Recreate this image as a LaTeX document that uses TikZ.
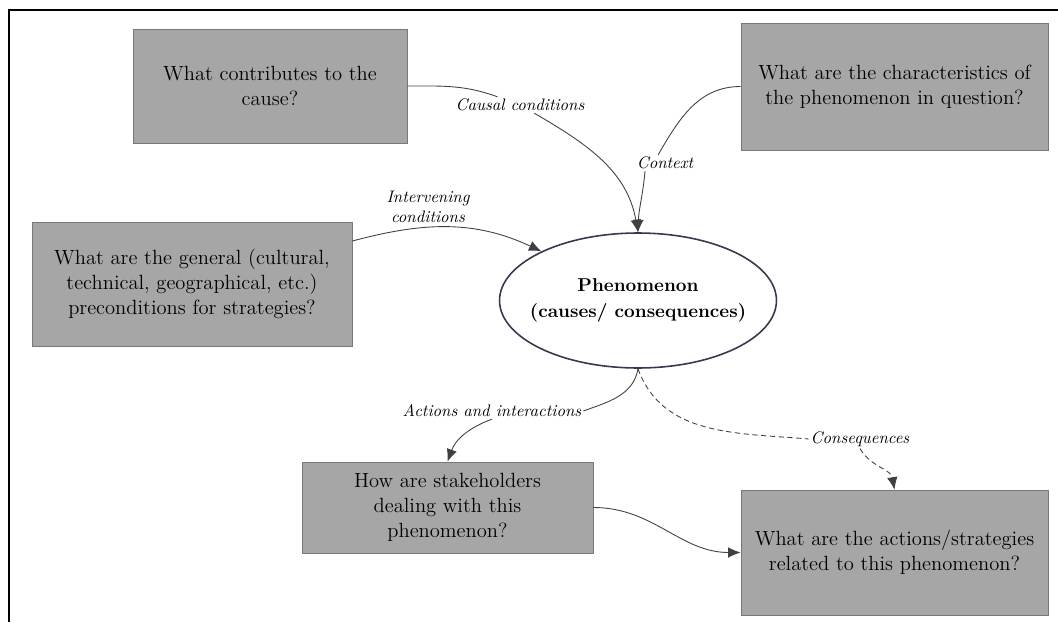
\documentclass[tikz,border=0pt]{standalone}
\usetikzlibrary{shapes.geometric,arrows.meta}
\definecolor{boxgray}{RGB}{166,166,166}
\definecolor{boxline}{RGB}{120,120,120}
\definecolor{ovalline}{RGB}{55,55,80}
\begin{document}
\begin{tikzpicture}
[x=0.02cm, y=-0.02cm, font=\fontsize{11.7}{14.4}\selectfont, >={Latex[length=2.5mm,width=2.1mm]}]
\tikzstyle{question}=[rectangle, draw=boxline, fill=boxgray, align=center, inner sep=0pt]
\tikzstyle{phenomenon}=[ellipse, draw=ovalline, line width=0.9pt, fill=white, inner sep=0pt]
\tikzstyle{edgelabel}=[fill=white, inner sep=1pt, align=center, font=\fontsize{9.5}{11.5}\selectfont\itshape]
\tikzstyle{link}=[draw=black!75, line width=0.5pt]
\useasboundingbox (0,0) rectangle (1058,622);
\draw[line width=1.1pt] (1058,10) -- (9,10) -- (9,622);

\node[question, minimum width=5.48cm, minimum height=2.28cm]	(cause)		at (270,86)		{What contributes to the\\cause?};
\node[question, minimum width=6.14cm, minimum height=2.54cm]	(charac)	at (894.5,86.5)	{What are the characteristics of\\the phenomenon in question?};
\node[question, minimum width=6.4cm, minimum height=2.48cm]	(precond)	at (192,284)	{What are the general (cultural,\\technical, geographical, etc.)\\preconditions for strategies?};
\node[phenomenon, minimum width=5.54cm, minimum height=2.7cm]	(phen)		at (638,300.5)
	[label={[align=center, font=\fontsize{10.6}{15}\selectfont\bfseries]center:{Phenomenon\\(causes/ consequences)}}] {};
\node[question, minimum width=5.82cm, minimum height=1.82cm]	(stake)		at (447.5,507.5)	{How are stakeholders\\dealing with this\\phenomenon?};
\node[question, minimum width=6.14cm, minimum height=2.5cm]	(strat)		at (894.5,552.5)	{What are the actions/strategies\\related to this phenomenon?};

\node[edgelabel]	(lcausal)	at (520,105)	{Causal conditions};
\node[edgelabel]	(lcontext)	at (665,163)	{Context};
\node[edgelabel]	(linterv)	at (428,207)	{Intervening\\conditions};
\node[edgelabel]	(lact)		at (492,411)	{Actions and interactions};
\node[edgelabel]	(lcons)		at (860,439)	{Consequences};

\draw[link] (cause.east) to[out=0, in=160] (lcausal);
\draw[link,->] (lcausal) to[out=-30, in=100] (phen.north);
\draw[link] (charac.west) to[out=180, in=60] (lcontext.130);
\draw[link,->] ([xshift=-0.4cm]lcontext.south) to[out=-95, in=88] (phen.north);
\draw[link,->] (precond.15) to[out=15, in=155] (phen.153);
\draw[link] (phen.south) to[out=-100, in=20] (lact.east);
\draw[link,->] (lact.south) to[out=200, in=70] (stake.north);
\draw[link,densely dashed] (phen.south) to[out=-70, in=175] (lcons.west);
\draw[link,densely dashed,->] (lcons.south) to[out=-60, in=100] (strat.north);
\draw[link,->] (stake.east) to[out=0, in=180] (strat.west);
\end{tikzpicture}
\end{document}
